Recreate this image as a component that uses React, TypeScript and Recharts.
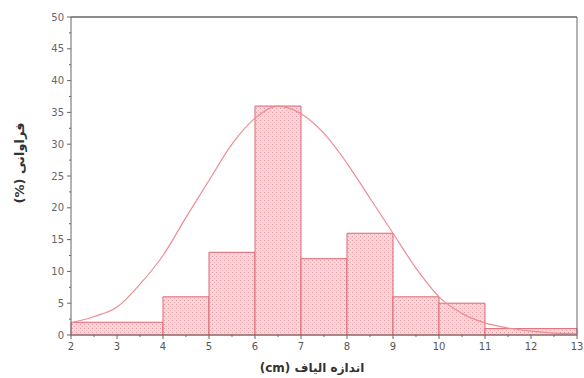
import * as React from "react";
import { ComposedChart, Line, XAxis, YAxis, ReferenceArea, ReferenceLine, Label } from "recharts";

// histogram bins (cm) and frequency (%)
const binStarts = [2, 4, 5, 6, 7, 8, 9, 10, 11];
const binEnds = [4, 5, 6, 7, 8, 9, 10, 11, 13];
const frequencies = [2, 6, 13, 36, 12, 16, 6, 5, 1];

// fitted normal curve
const curveX = [2, 2.5, 3, 3.5, 4, 4.5, 5, 5.5, 6, 6.5, 7, 7.5, 8, 8.5, 9, 9.5, 10, 10.5, 11, 11.5, 12, 12.5, 13];
const curveY = [1.9, 2.9, 4.4, 8, 12.5, 18.5, 24.3, 30, 34.1, 36, 34.8, 31.7, 27, 21.5, 16, 10.5, 6, 3.4, 1.9, 1.1, 0.6, 0.3, 0.2];

const xTicks = [2, 2.5, 3, 3.5, 4, 4.5, 5, 5.5, 6, 6.5, 7, 7.5, 8, 8.5, 9, 9.5, 10, 10.5, 11, 11.5, 12, 12.5, 13];
const yTicks = [0, 2.5, 5, 7.5, 10, 12.5, 15, 17.5, 20, 22.5, 25, 27.5, 30, 32.5, 35, 37.5, 40, 42.5, 45, 47.5, 50];

const xTitle = "اندازه الیاف (cm)";
const yTitle = "فراوانی (%)";

const curveData = curveX.map((x, i) => ({ x, y: curveY[i] }));

const axisColor = "#666";
const font = "DejaVu Sans, sans-serif";

const XTick = (props: any) => {
  const { x, y, payload } = props;
  const major = Number.isInteger(payload.value);
  return (
    <g>
      <line x1={x} x2={x} y1={y} y2={y + (major ? 4 : 2)} stroke={axisColor} />
      {major && (
        <text x={x} y={y + 15} textAnchor="middle" fontSize={10} fill="#555" fontFamily={font}>
          {payload.value}
        </text>
      )}
    </g>
  );
};

const YTick = (props: any) => {
  const { x, y, payload } = props;
  const major = payload.value % 5 === 0;
  return (
    <g>
      <line x1={x - (major ? 4 : 2)} x2={x} y1={y} y2={y} stroke={axisColor} />
      {major && (
        <text x={x - 7} y={y + 3.5} textAnchor="end" fontSize={10} fill="#666" fontFamily={font}>
          {payload.value}
        </text>
      )}
    </g>
  );
};

export default function App() {
  return (
    <div style={{ position: "absolute", left: 0, top: 0, background: "#fff" }}>
      <ComposedChart width={584} height={378} margin={{ top: 17, right: 7, bottom: 13, left: 0 }}>
        <defs>
          <pattern id="hatch" width="4" height="4" patternUnits="userSpaceOnUse">
            <rect width="4" height="4" fill="#fcd5d9" />
            <rect x="0" y="0" width="1" height="1" fill="#e99aa3" />
            <rect x="2" y="2" width="1" height="1" fill="#f0b0b7" />
          </pattern>
        </defs>
        <XAxis
          type="number"
          dataKey="x"
          domain={[2, 13]}
          ticks={xTicks}
          interval={0}
          height={30}
          tickSize={0}
          tickMargin={0}
          tick={<XTick />}
          stroke={axisColor}
          allowDataOverflow
        >
          <Label
            content={() => (
              <text
                x={312}
                y={372}
                textAnchor="middle"
                direction="rtl"
                fontSize={12}
                fontWeight="bold"
                fill="#333"
                fontFamily={font}
              >
                {xTitle}
              </text>
            )}
          />
        </XAxis>
        <YAxis
          type="number"
          domain={[0, 50]}
          ticks={yTicks}
          interval={0}
          width={71}
          tickSize={0}
          tickMargin={0}
          tick={<YTick />}
          stroke={axisColor}
        >
          <Label
            content={() => (
              <text
                transform="translate(24,163) rotate(-90)"
                textAnchor="middle"
                direction="rtl"
                fontSize={13}
                fontWeight="bold"
                fill="#333"
                fontFamily={font}
              >
                {yTitle}
              </text>
            )}
          />
        </YAxis>
        {frequencies.map((f, i) => (
          <ReferenceArea
            key={i}
            x1={binStarts[i]}
            x2={binEnds[i]}
            y1={0}
            y2={f}
            fill="url(#hatch)"
            fillOpacity={1}
            stroke="#d86672"
            strokeWidth={1}
          />
        ))}
        <ReferenceLine y={50} stroke={axisColor} strokeWidth={1.5} />
        <ReferenceLine x={13} stroke={axisColor} strokeWidth={1} />
        <Line
          data={curveData}
          dataKey="y"
          type="monotone"
          stroke="#ec8c95"
          strokeWidth={1.2}
          dot={false}
          isAnimationActive={false}
        />
      </ComposedChart>
    </div>
  );
}
